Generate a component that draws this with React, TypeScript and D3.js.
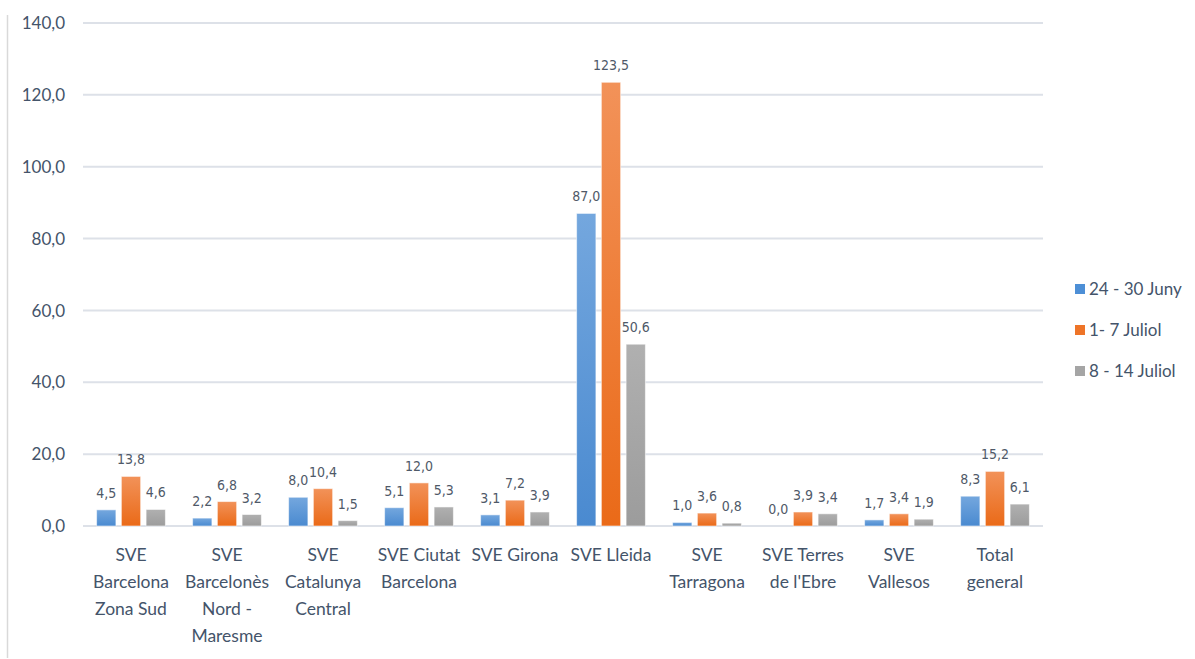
import * as d3 from 'd3';

const categories: string[][] = [
  ['SVE', 'Barcelona', 'Zona Sud'],
  ['SVE', 'Barcelonès', 'Nord -', 'Maresme'],
  ['SVE', 'Catalunya', 'Central'],
  ['SVE Ciutat', 'Barcelona'],
  ['SVE Girona'],
  ['SVE Lleida'],
  ['SVE', 'Tarragona'],
  ['SVE Terres', "de l'Ebre"],
  ['SVE', 'Vallesos'],
  ['Total', 'general'],
];

const seriesNames = ['24 - 30 Juny', '1- 7 Juliol', '8 - 14 Juliol'];
const juny = [4.5, 2.2, 8.0, 5.1, 3.1, 87.0, 1.0, 0.0, 1.7, 8.3];
const juliol1 = [13.8, 6.8, 10.4, 12.0, 7.2, 123.5, 3.6, 3.9, 3.4, 15.2];
const juliol2 = [4.6, 3.2, 1.5, 5.3, 3.9, 50.6, 0.8, 3.4, 1.9, 6.1];
const yTicks = [0, 20, 40, 60, 80, 100, 120, 140];

const series = [juny, juliol1, juliol2];

// gradient stops: top, bottom
const GRADS = [
  ['#74a7de', '#4a8ad0'],
  ['#f29259', '#ea6a18'],
  ['#b0b0b0', '#9c9c9c'],
];
const LEGEND_COLORS = ['#4d8fd6', '#ee7428', '#a5a5a5'];

const AXIS_FONT = 'Lato, "Open Sans", sans-serif';
const VALUE_FONT = '"Liberation Sans Narrow", "DejaVu Sans Condensed", Roboto, sans-serif';

const fmt = (v: number) => v.toFixed(1).replace('.', ',');

export default function App() {
  const width = 1195;
  const height = 659;
  const left = 83;
  const right = 1043;
  const top = 23;
  const bottom = 526;

  const x = d3.scaleBand<number>().domain(d3.range(categories.length)).range([left, right]);
  const inner = d3
    .scaleBand<number>()
    .domain([0, 1, 2])
    .range([0, x.bandwidth()])
    .paddingInner(0.22)
    .paddingOuter(0.55);
  const y = d3.scaleLinear().domain([0, 140]).range([bottom, top]);

  return (
    <svg
      width={width}
      height={height}
      style={{ position: 'absolute', left: 0, top: 0, background: '#fff' }}
    >
      <defs>
        {GRADS.map((g, i) => (
          <linearGradient key={i} id={`grad${i}`} x1="0" y1="0" x2="0" y2="1">
            <stop offset="0%" stopColor={g[0]} />
            <stop offset="100%" stopColor={g[1]} />
          </linearGradient>
        ))}
      </defs>

      {/* chart area border */}
      <line x1={7.5} x2={7.5} y1={15} y2={658} stroke="#d9d9d9" strokeWidth={1.5} />

      {/* gridlines + y labels */}
      {yTicks.map((t) => (
        <g key={t}>
          <line x1={left} x2={right} y1={y(t)} y2={y(t)} stroke="#dde1e8" strokeWidth={2} />
          <text
            x={65}
            y={y(t)}
            dy="0.36em"
            textAnchor="end"
            fontFamily={AXIS_FONT}
            fontSize={17}
            fill="#44546a"
          >
            {fmt(t)}
          </text>
        </g>
      ))}

      {/* bars */}
      {series.map((vals, s) =>
        vals.map((v, i) => {
          const bx = (x(i) ?? 0) + (inner(s) ?? 0);
          const bw = inner.bandwidth();
          const by = y(v);
          return (
            <g key={`${s}-${i}`}>
              {v > 0 && (
                <rect
                  x={bx}
                  y={by}
                  width={bw}
                  height={bottom - by}
                  fill={`url(#grad${s})`}
                  stroke="rgba(255,255,255,0.55)"
                  strokeWidth={1}
                />
              )}
              <text
                x={bx + bw / 2}
                y={by - 12}
                textAnchor="middle"
                fontFamily={VALUE_FONT}
                fontSize={14}
                fill="#4f5968"
              >
                {fmt(v)}
              </text>
            </g>
          );
        })
      )}

      {/* category labels */}
      {categories.map((lines, i) => (
        <text
          key={i}
          x={(x(i) ?? 0) + x.bandwidth() / 2}
          y={561}
          textAnchor="middle"
          fontFamily={AXIS_FONT}
          fontSize={17.5}
          fill="#44546a"
        >
          {lines.map((l, j) => (
            <tspan key={j} x={(x(i) ?? 0) + x.bandwidth() / 2} dy={j === 0 ? 0 : 27}>
              {l}
            </tspan>
          ))}
        </text>
      ))}

      {/* legend */}
      {seriesNames.map((n, i) => (
        <g key={n} transform={`translate(1075,${289 + i * 41})`}>
          <rect x={0} y={-5} width={10} height={10} fill={LEGEND_COLORS[i]} />
          <text x={14} y={0} dy="0.36em" fontFamily={AXIS_FONT} fontSize={17} fill="#44546a">
            {n}
          </text>
        </g>
      ))}
    </svg>
  );
}
